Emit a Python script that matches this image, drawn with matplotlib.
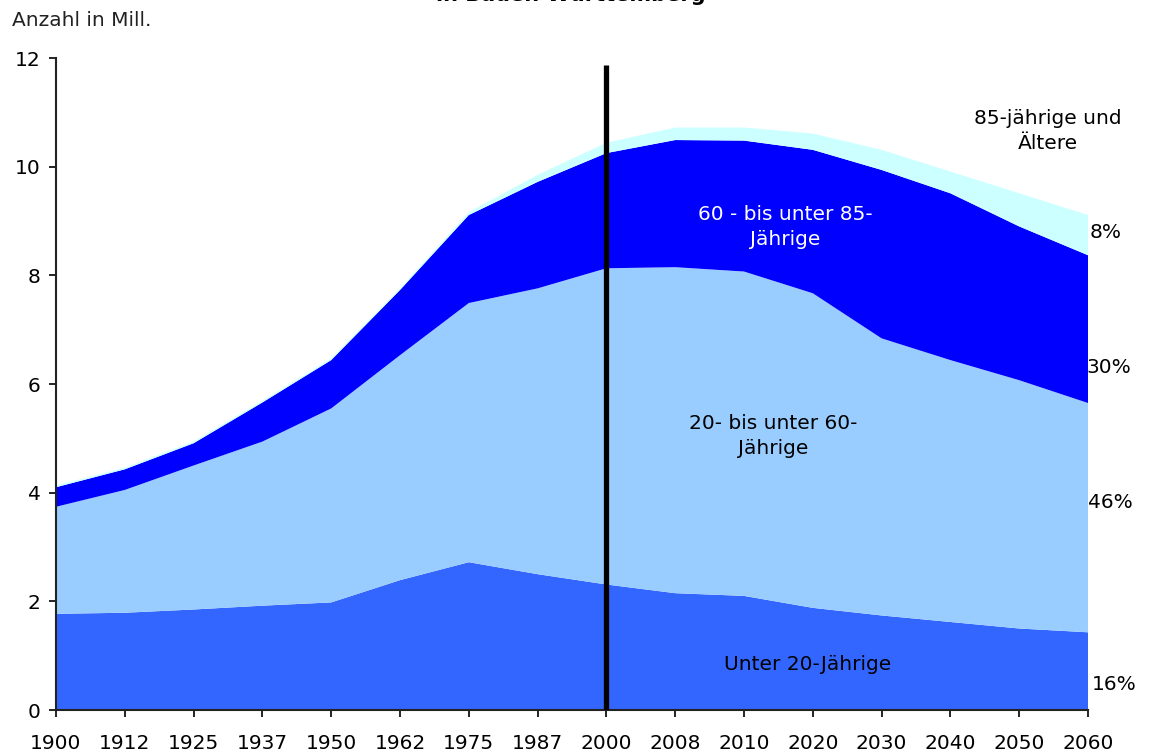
import matplotlib
matplotlib.use("Agg")
import matplotlib.pyplot as plt
import numpy as np

years = ["1900", "1912", "1925", "1937", "1950", "1962", "1975", "1987",
         "2000", "2008", "2010", "2020", "2030", "2040", "2050", "2060"]
unter20 = [1.77, 1.79, 1.85, 1.92, 1.98, 2.39, 2.72, 2.50, 2.31, 2.15, 2.10, 1.88, 1.74, 1.62, 1.50, 1.43]
von20bis60 = [1.97, 2.26, 2.65, 3.02, 3.57, 4.14, 4.77, 5.26, 5.82, 6.00, 5.97, 5.79, 5.10, 4.82, 4.57, 4.22]
von60bis85 = [0.36, 0.38, 0.41, 0.72, 0.89, 1.20, 1.62, 1.96, 2.12, 2.34, 2.41, 2.64, 3.10, 3.07, 2.83, 2.72]
ab85 = [0.03, 0.03, 0.03, 0.03, 0.03, 0.03, 0.05, 0.13, 0.19, 0.23, 0.24, 0.30, 0.37, 0.40, 0.61, 0.74]
colors = ["#3366FF", "#99CCFF", "#0000FF", "#CCFFFF"]
yticks = [0, 2, 4, 6, 8, 10, 12]
marker_year = "2000"
percent_labels = ["16%", "46%", "30%", "8%"]

fig = plt.figure(figsize=(11.49, 7.56), dpi=100)
ax = fig.add_axes([56 / 1149, 46 / 756, 1032 / 1149, 652 / 756])

x = np.arange(len(years))
ax.stackplot(x, unter20, von20bis60, von60bis85, ab85, colors=colors, linewidth=0)

xi = years.index(marker_year)
ax.plot([xi, xi], [0, 11.87], color="black", linewidth=3.8, solid_capstyle="butt", zorder=5)

fs = 14.5
ax.set_xlim(0, len(years) - 1)
ax.set_ylim(0, 12)
ax.set_xticks(x)
ax.set_xticklabels(years)
ax.set_yticks(yticks)
ax.set_yticklabels([str(v) for v in yticks])
ax.tick_params(axis="both", direction="out", length=5, width=1.2, labelsize=fs, color="black")
ax.tick_params(axis="x", pad=12)
ax.tick_params(axis="y", pad=6)
for s in ["top", "right"]:
    ax.spines[s].set_visible(False)
for s in ["left", "bottom"]:
    ax.spines[s].set_linewidth(1.5)
    ax.spines[s].set_color("#222222")

def px(xp, yp):
    return ((xp - 56) / 68.8, (710 - yp) / 54.33)

ls = 1.45
ax.text(*px(1048, 131), "85-jährige und\nÄltere", ha="center", va="center", fontsize=fs, color="black", linespacing=ls)
ax.text(*px(785, 227), "60 - bis unter 85-\nJährige", ha="center", va="center", fontsize=fs, color="white", linespacing=ls)
ax.text(*px(773, 436), "20- bis unter 60-\nJährige", ha="center", va="center", fontsize=fs, color="black", linespacing=ls)
ax.text(*px(808, 665), "Unter 20-Jährige", ha="center", va="center", fontsize=fs, color="black")
for lab, (xp, yp) in zip(percent_labels, [(1092, 685), (1088, 503), (1086, 368), (1090, 233)]):
    ax.text(*px(xp, yp), lab, ha="left", va="center", fontsize=fs, color="black", clip_on=False)

fig.text(12 / 1149, 1 - 20 / 756, "Anzahl in Mill.", ha="left", va="center", fontsize=fs, color="#222222")
fig.text(571 / 1149, 1 - 1 / 756, "in Baden-Württemberg", ha="center", va="baseline", fontsize=15, fontweight="bold", color="black")

fig.savefig("out.png", dpi=100)
